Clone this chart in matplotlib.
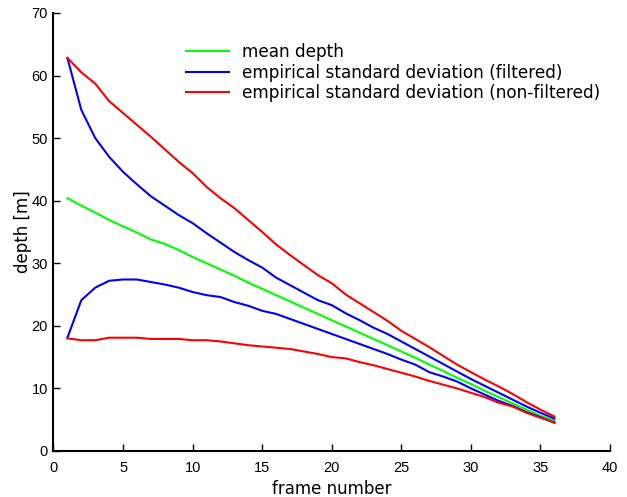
import matplotlib
matplotlib.use('Agg')
from matplotlib import pyplot as plt
import numpy as np

frames = list(range(1, 37))

mean_depth = [40.4, 39.2, 38.1, 36.9, 35.9, 34.9, 33.8, 33.1, 32.1, 31.0,
              30.0, 29.0, 28.0, 26.9, 25.9, 24.9, 23.9, 22.9, 21.9, 20.9,
              19.9, 18.9, 17.9, 16.9, 15.9, 14.9, 13.8, 12.8, 11.7, 10.7,
              9.6, 8.6, 7.6, 6.6, 5.6, 4.9]

filt_upper = [62.8, 54.5, 50.0, 47.0, 44.6, 42.6, 40.7, 39.2, 37.7, 36.4,
              34.8, 33.3, 31.8, 30.5, 29.3, 27.7, 26.5, 25.3, 24.1, 23.3,
              22.0, 20.9, 19.7, 18.7, 17.5, 16.3, 15.1, 13.9, 12.7, 11.5,
              10.4, 9.3, 8.2, 7.1, 6.1, 5.2]

filt_lower = [18.1, 24.1, 26.1, 27.2, 27.4, 27.4, 27.0, 26.6, 26.1, 25.4,
              24.9, 24.6, 23.8, 23.2, 22.4, 21.9, 21.1, 20.3, 19.5, 18.7,
              17.9, 17.1, 16.3, 15.5, 14.6, 13.8, 12.6, 11.9, 11.1, 10.0,
              9.0, 8.0, 7.2, 6.2, 5.4, 4.5]

nonfilt_upper = [62.8, 60.5, 58.7, 55.9, 54.0, 52.1, 50.2, 48.2, 46.2, 44.4,
                 42.2, 40.4, 38.8, 36.9, 35.0, 33.0, 31.3, 29.7, 28.1, 26.8,
                 25.0, 23.6, 22.2, 20.8, 19.2, 17.9, 16.6, 15.2, 13.8, 12.6,
                 11.4, 10.3, 9.1, 7.8, 6.6, 5.5]

nonfilt_lower = [18.0, 17.7, 17.7, 18.1, 18.1, 18.1, 17.9, 17.9, 17.9, 17.7,
                 17.7, 17.5, 17.2, 16.9, 16.7, 16.5, 16.3, 15.9, 15.5, 15.0,
                 14.8, 14.2, 13.7, 13.1, 12.5, 11.9, 11.2, 10.6, 10.0, 9.3,
                 8.6, 7.7, 7.1, 6.1, 5.3, 4.6]

fig = plt.figure(figsize=(6.27, 4.97), dpi=100)
ax = fig.add_axes([0.0853, 0.0926, 0.8877, 0.8814])

lw = 1.5
ax.plot(frames, mean_depth, color='#00ff00', lw=lw, label='mean depth')
ax.plot(frames, filt_upper, color='#0000ff', lw=lw, label='empirical standard deviation (filtered)')
ax.plot(frames, filt_lower, color='#0000ff', lw=lw)
ax.plot(frames, nonfilt_upper, color='#ff0000', lw=lw, label='empirical standard deviation (non-filtered)')
ax.plot(frames, nonfilt_lower, color='#ff0000', lw=lw)

ax.set_xlim(0, 40)
ax.set_ylim(0, 70)
ax.set_xlabel('frame number', fontsize=12, labelpad=3.5)
ax.set_ylabel('depth [m]', fontsize=12, labelpad=-0.5)
ax.tick_params(direction='in', length=5, width=1)
ax.tick_params(axis='x', pad=7.5)
ax.tick_params(axis='y', pad=4)
for lab in ax.get_xticklabels() + ax.get_yticklabels():
    lab.set_family('Liberation Sans')
    lab.set_fontsize(10.5)

ax.spines['top'].set_visible(False)
ax.spines['right'].set_visible(False)
ax.spines['left'].set_linewidth(1.5)
ax.spines['bottom'].set_linewidth(1.5)

ax.legend(loc='upper left', bbox_to_anchor=(0.21, 0.967), frameon=False,
          fontsize=12.2, handlelength=2.55, handletextpad=0.8, labelspacing=0.17)

fig.savefig('out.png')
